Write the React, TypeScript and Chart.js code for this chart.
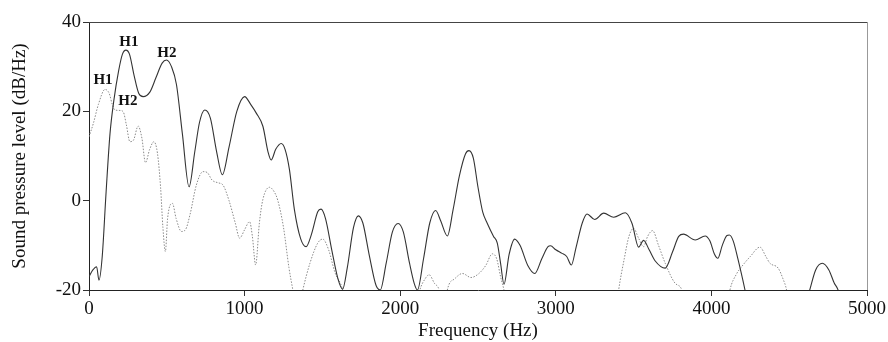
import React, { useEffect, useRef } from "react";
import { Chart, registerables } from "chart.js";

Chart.register(...registerables);

// Solid (dark) spectrum
const solidFreq = [
  0, 25, 49, 64, 85, 110, 135, 160, 190, 215, 237, 260, 290, 320, 348, 391, 430, 470, 498, 530,
  562, 600, 643, 680, 710, 744, 780, 820, 857, 900, 950, 1000, 1040, 1075, 1118, 1150, 1171, 1200, 1235, 1260,
  1288, 1320, 1360, 1395, 1430, 1470, 1491, 1520, 1560, 1600, 1630, 1660, 1700, 1731, 1760, 1800, 1845, 1872, 1910, 1950,
  1987, 2020, 2060, 2090, 2111, 2150, 2190, 2228, 2260, 2303, 2340, 2380, 2420, 2442, 2470, 2500, 2530, 2560, 2600, 2624,
  2645, 2667, 2700, 2735, 2770, 2820, 2865, 2910, 2950, 2966, 3000, 3040, 3070, 3100, 3130, 3170, 3201, 3250, 3308, 3372,
  3447, 3490, 3532, 3564, 3600, 3639, 3703, 3750, 3790, 3821, 3896, 3960, 3990, 4020, 4041, 4070, 4100, 4115, 4140, 4170,
  4216, 4240, 4600, 4632, 4670, 4713, 4755, 4790, 4814, 4840, 5000,
];
const solidLevel = [
  -17.0, -15.5, -14.8, -17.8, -12.5, 2, 15, 22.5, 29, 32.8, 33.7, 32.8, 28, 24, 23.3, 24.3, 27.5, 30.8, 31.5, 30,
  26, 15, 3.1, 11, 17.5, 20.3, 18.5, 11, 5.8, 12, 20, 23.3, 21.5, 19.6, 16.6, 11, 9.1, 11.5, 12.8, 11.5,
  7, -2, -8.5, -10.3, -7.5, -2.5, -1.9, -4, -11, -17.5, -19.8, -15, -6, -3.4, -5, -12, -19, -20, -14, -7,
  -5.1, -7, -14, -18.5, -20, -13, -5, -2.2, -4.5, -7.9, -2, 5.5, 10.5, 11.2, 9.5, 3, -2.5, -5.1, -8, -9.5,
  -14, -18.7, -12, -8.6, -10, -14.5, -16.3, -13, -10.3, -10.1, -11, -11.8, -12.5, -14.4, -10.5, -5, -3.0, -4.2, -2.8, -3.7,
  -2.7, -5.1, -10.4, -8.9, -11, -13.5, -15.1, -11.5, -8, -7.5, -8.8, -7.9, -9, -12, -12.9, -10, -7.8, -7.7, -9, -13,
  -20, -24, -24, -20, -15.5, -14.0, -15.5, -18.5, -20, -24, -24,
];

// Dotted (grey) spectrum
const dottedFreq = [
  0, 28, 60, 103, 130, 150, 167, 199, 220, 240, 263, 285, 316, 340, 363, 390, 417, 440, 460, 475,
  491, 505, 536, 560, 594, 620, 650, 690, 733, 760, 791, 830, 861, 900, 940, 968, 1000, 1032, 1050, 1071,
  1095, 1117, 1160, 1190, 1213, 1250, 1285, 1310, 1330, 1350, 1374, 1420, 1470, 1502, 1540, 1580, 1630, 1650, 2100, 2126,
  2160, 2186, 2220, 2250, 2270, 2290, 2303, 2350, 2400, 2455, 2506, 2550, 2592, 2620, 2645, 2667, 2690, 3390, 3404, 3440,
  3470, 3500, 3532, 3564, 3590, 3622, 3660, 3703, 3767, 3810, 3830, 4100, 4119, 4160, 4194, 4250, 4312, 4350, 4376, 4429,
  4460, 4483, 4500, 5000,
];
const dottedLevel = [
  14.3, 17.3, 21.5, 24.9, 24, 21.5, 20.3, 20.2, 19.9, 17, 13.2, 13.5, 16.7, 14, 8.5, 11.5, 13.2, 10.6, 3, -6,
  -11.4, -4, -0.6, -4, -6.9, -6.5, -3, 3.5, 6.5, 6.3, 4.6, 4.0, 3.5, 0, -5, -8.4, -6.5, -4.7, -8, -14.4,
  -5, 0.2, 3.0, 2, 0.1, -6, -15, -20, -24, -24, -20, -14, -9.5, -8.6, -11, -16, -20, -24, -24, -20,
  -17.5, -16.6, -18.5, -20, -24, -24, -20, -17.5, -16.3, -17.2, -16.3, -14.5, -11.9, -13, -17, -20, -24, -24, -20, -13,
  -8, -6.2, -8.4, -10.3, -8, -6.7, -10, -14.0, -18.5, -20, -24, -24, -20, -16.5, -14.8, -12.5, -10.4, -12.5, -14.0, -15.1,
  -17.5, -20, -24, -24,
];

const xTicks = [0, 1000, 2000, 3000, 4000, 5000];
const yTicks = [-20, 0, 20, 40];

const peakLabels = ["H1", "H2", "H1", "H2"];
const peakLabelFreq = [256, 500, 90, 250];
const peakLabelLevel = [35.6, 33.1, 27.0, 22.2];

const FONT = '"Liberation Serif", "Times New Roman", serif';

const frameAndLabels = {
  id: "frameAndLabels",
  afterDraw(chart: any) {
    const { ctx, chartArea, scales } = chart;
    ctx.save();
    ctx.lineWidth = 1;
    ctx.strokeStyle = "#444";
    ctx.beginPath();
    ctx.moveTo(chartArea.left, chartArea.top + 0.5);
    ctx.lineTo(chartArea.right, chartArea.top + 0.5);
    ctx.stroke();
    ctx.strokeStyle = "#999";
    ctx.beginPath();
    ctx.moveTo(chartArea.right + 0.5, chartArea.top);
    ctx.lineTo(chartArea.right + 0.5, chartArea.bottom);
    ctx.stroke();
    ctx.fillStyle = "#111";
    ctx.font = `bold 15px ${FONT}`;
    ctx.textAlign = "center";
    ctx.textBaseline = "middle";
    peakLabels.forEach((t, i) => {
      const x = scales.x.getPixelForValue(peakLabelFreq[i]);
      const y = scales.y.getPixelForValue(peakLabelLevel[i]);
      ctx.fillText(t, x, y);
    });
    ctx.restore();
  },
};

export default function App() {
  const ref = useRef<HTMLCanvasElement | null>(null);
  useEffect(() => {
    if (!ref.current) return;
    const chart = new Chart(ref.current, {
      type: "line",
      data: {
        datasets: [
          {
            label: "solid",
            data: solidFreq.map((f, i) => ({ x: f, y: solidLevel[i] })),
            borderColor: "#333",
            borderWidth: 1.1,
            pointRadius: 0,
            cubicInterpolationMode: "monotone",
            fill: false,
          },
          {
            label: "dotted",
            data: dottedFreq.map((f, i) => ({ x: f, y: dottedLevel[i] })),
            borderColor: "#8a8a8a",
            borderWidth: 1,
            borderDash: [1.5, 1.5],
            pointRadius: 0,
            cubicInterpolationMode: "monotone",
            fill: false,
          },
        ],
      },
      options: {
        animation: false,
        responsive: false,
        layout: { padding: { top: 22, right: 19, left: 0, bottom: 0 } },
        plugins: { legend: { display: false }, tooltip: { enabled: false } },
        scales: {
          x: {
            type: "linear",
            min: 0,
            max: 5000,
            afterBuildTicks: (s: any) => {
              s.ticks = xTicks.map((v) => ({ value: v }));
            },
            afterFit: (s: any) => {
              s.height = 52;
            },
            ticks: {
              callback: (v: any) => String(v),
              font: { family: FONT, size: 19 },
              color: "#111",
              padding: 2,
              maxRotation: 0,
            },
            grid: { display: true, drawOnChartArea: false, drawTicks: true, tickLength: 6, color: "#333" },
            border: { display: true, color: "#222", width: 1 },
            title: {
              display: true,
              text: "Frequency (Hz)",
              font: { family: FONT, size: 19 },
              color: "#111",
              padding: { top: 0, bottom: 0 },
            },
          },
          y: {
            type: "linear",
            min: -20,
            max: 40,
            afterBuildTicks: (s: any) => {
              s.ticks = yTicks.map((v) => ({ value: v }));
            },
            afterFit: (s: any) => {
              s.width = 89;
            },
            ticks: {
              font: { family: FONT, size: 19 },
              color: "#111",
              padding: 2,
            },
            grid: { display: true, drawOnChartArea: false, drawTicks: true, tickLength: 6, color: "#333" },
            border: { display: true, color: "#222", width: 1 },
            title: {
              display: true,
              text: "Sound pressure level (dB/Hz)",
              font: { family: FONT, size: 19 },
              color: "#111",
              padding: { top: 9, bottom: 0 },
            },
          },
        },
      },
      plugins: [frameAndLabels],
    });
    return () => chart.destroy();
  }, []);
  return (
    <div style={{ position: "absolute", left: 0, top: 0, width: 888, height: 342, background: "#fff" }}>
      <canvas ref={ref} width={888} height={342} style={{ display: "block" }} />
    </div>
  );
}
